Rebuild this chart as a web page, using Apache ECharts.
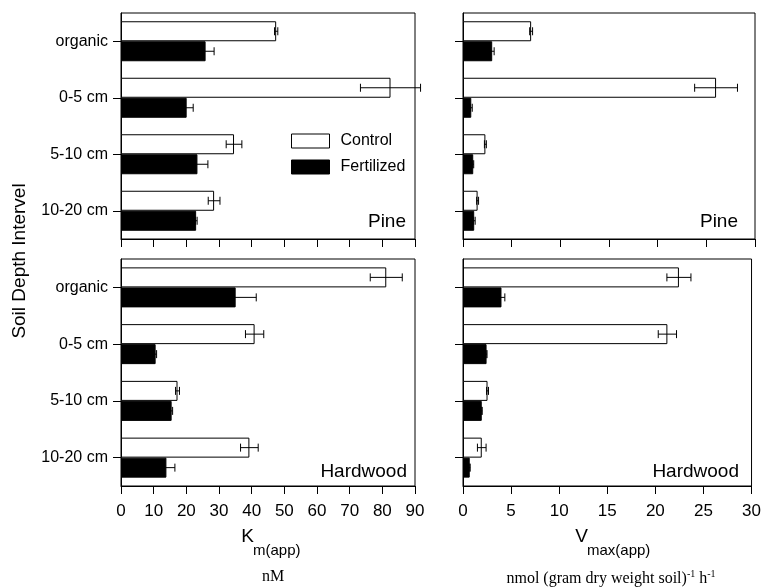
<!DOCTYPE html>
<html>
<head>
<meta charset="utf-8">
<script src="https://cdn.jsdelivr.net/npm/echarts@6.0.0/dist/echarts.min.js"></script>
<style>
  html, body { margin: 0; padding: 0; background: #fff; }
  #main { width: 764px; height: 587px; }
</style>
</head>
<body>
<div id="main"></div>
<script>
// soil depth intervals
var depths = ['organic', '0-5 cm', '5-10 cm', '10-20 cm'];

// Pine, Km(app) nM
var pineKmControl = [47.5, 82.5, 34.6, 28.5];
var pineKmControlErr = [0.5, 9.2, 2.4, 1.8];
var pineKmFert = [25.9, 20.1, 23.4, 23.0];
var pineKmFertErr = [2.6, 2.0, 3.2, 0.3];

// Pine, Vmax(app)
var pineVmaxControl = [7.0, 26.0, 2.3, 1.5];
var pineVmaxControlErr = [0.15, 2.2, 0.1, 0.1];
var pineVmaxFert = [3.0, 0.85, 1.05, 1.15];
var pineVmaxFertErr = [0.2, 0.1, 0.05, 0.1];

// Hardwood, Km(app)
var hwKmControl = [81.2, 40.9, 17.3, 39.3];
var hwKmControlErr = [4.9, 2.8, 0.6, 2.7];
var hwKmFert = [35.1, 10.6, 15.5, 13.9];
var hwKmFertErr = [6.3, 0.3, 0.3, 2.6];

// Hardwood, Vmax(app)
var hwVmaxControl = [22.45, 21.25, 2.55, 1.95];
var hwVmaxControlErr = [1.25, 0.95, 0.1, 0.45];
var hwVmaxFert = [4.0, 2.45, 1.95, 0.7];
var hwVmaxFertErr = [0.35, 0.05, 0.05, 0.05];

var kmTicks = {min: 0, max: 90, interval: 10};
var vmaxTicks = {min: 0, max: 30, interval: 5};

var FONT = 'Liberation Sans';
var BAR_W = 20;

function errData(vals, errs) {
  return vals.map(function (v, i) { return [v, i, errs[i]]; });
}

// horizontal error bar with caps, shifted up/down to sit on its bar
function errRender(shift) {
  return function (params, api) {
    var v = api.value(0), ci = api.value(1), e = api.value(2);
    var lo = api.coord([v - e, ci]);
    var hi = api.coord([v + e, ci]);
    var y = lo[1] + shift;
    var st = {stroke: '#000', lineWidth: 1};
    return {
      type: 'group',
      children: [
        {type: 'line', shape: {x1: lo[0], y1: y, x2: hi[0], y2: y}, style: st},
        {type: 'line', shape: {x1: lo[0], y1: y - 4, x2: lo[0], y2: y + 4}, style: st},
        {type: 'line', shape: {x1: hi[0], y1: y - 4, x2: hi[0], y2: y + 4}, style: st}
      ]
    };
  };
}

var grids = [
  {left: 121, top: 13, width: 294, height: 226},
  {left: 463, top: 13, width: 292, height: 226},
  {left: 121, top: 259, width: 294, height: 227},
  {left: 463, top: 259, width: 292, height: 227}
];
grids.forEach(function (g) {
  g.show = true;
  g.borderColor = '#000';
  g.borderWidth = 1;
  g.backgroundColor = 'transparent';
});

function xAx(idx, ticks, labels) {
  return {
    type: 'value', gridIndex: idx,
    min: ticks.min, max: ticks.max, interval: ticks.interval,
    axisLine: {show: true, lineStyle: {color: '#000', width: 1}},
    axisTick: {show: true, length: 8, lineStyle: {color: '#000'}},
    axisLabel: {show: labels, color: '#000', fontFamily: FONT, fontSize: 17, margin: 17},
    splitLine: {show: false}
  };
}

function yAx(idx, labels) {
  return {
    type: 'category', gridIndex: idx, data: depths, inverse: true,
    axisLine: {show: true, lineStyle: {color: '#000', width: 1}},
    axisTick: {show: true, length: 8, alignWithLabel: true, lineStyle: {color: '#000'}},
    axisLabel: {show: labels, color: '#000', fontFamily: FONT, fontSize: 16, margin: 13},
    splitLine: {show: false}
  };
}

var panels = [
  {c: pineKmControl, ce: pineKmControlErr, f: pineKmFert, fe: pineKmFertErr},
  {c: pineVmaxControl, ce: pineVmaxControlErr, f: pineVmaxFert, fe: pineVmaxFertErr},
  {c: hwKmControl, ce: hwKmControlErr, f: hwKmFert, fe: hwKmFertErr},
  {c: hwVmaxControl, ce: hwVmaxControlErr, f: hwVmaxFert, fe: hwVmaxFertErr}
];

var series = [];
panels.forEach(function (p, i) {
  series.push({
    name: 'Control', type: 'bar', xAxisIndex: i, yAxisIndex: i,
    data: p.c, barWidth: BAR_W, barGap: 0,
    itemStyle: {color: '#fff', borderColor: '#000', borderWidth: 1},
    emphasis: {disabled: true}, animation: false
  });
  series.push({
    name: 'Fertilized', type: 'bar', xAxisIndex: i, yAxisIndex: i,
    data: p.f, barWidth: BAR_W, barGap: 0,
    itemStyle: {color: '#000', borderColor: '#000', borderWidth: 1},
    emphasis: {disabled: true}, animation: false
  });
  series.push({
    type: 'custom', xAxisIndex: i, yAxisIndex: i, z: 5, clip: false,
    renderItem: errRender(-BAR_W / 2), encode: {x: 0, y: 1},
    data: errData(p.c, p.ce), animation: false, silent: true
  });
  series.push({
    type: 'custom', xAxisIndex: i, yAxisIndex: i, z: 5, clip: false,
    renderItem: errRender(BAR_W / 2), encode: {x: 0, y: 1},
    data: errData(p.f, p.fe), animation: false, silent: true
  });
});

function txt(x, y, s, size, align, family, extra) {
  var o = {
    type: 'text', x: x, y: y, silent: true,
    style: {text: s, fill: '#000', font: size + 'px "' + (family || FONT) + '"',
            textAlign: align || 'center', textVerticalAlign: 'middle'}
  };
  if (extra) { for (var k in extra) o[k] = extra[k]; }
  return o;
}

var option = {
  backgroundColor: '#fff',
  animation: false,
  grid: grids,
  xAxis: [xAx(0, kmTicks, false), xAx(1, vmaxTicks, false), xAx(2, kmTicks, true), xAx(3, vmaxTicks, true)],
  yAxis: [yAx(0, true), yAx(1, false), yAx(2, true), yAx(3, false)],
  legend: {
    data: ['Control', 'Fertilized'],
    orient: 'vertical', left: 286, top: 128,
    icon: 'rect', itemWidth: 38, itemHeight: 14, itemGap: 10,
    selectedMode: false,
    itemStyle: {borderWidth: 1, borderColor: '#000'},
    textStyle: {color: '#000', fontFamily: FONT, fontSize: 16, padding: [0, 0, 0, 6]}
  },
  graphic: [
    txt(406, 222, 'Pine', 19, 'right'),
    txt(738, 222, 'Pine', 19, 'right'),
    txt(407, 472, 'Hardwood', 19, 'right'),
    txt(739, 472, 'Hardwood', 19, 'right'),
    txt(20, 261, 'Soil Depth Intervel', 19, 'center', FONT, {rotation: Math.PI / 2}),
    txt(254, 537, 'K', 19, 'right'),
    txt(253, 551, 'm(app)', 15, 'left'),
    txt(588, 537, 'V', 19, 'right'),
    txt(587, 551, 'max(app)', 15, 'left'),
    txt(273, 577, 'nM', 16, 'center', 'Liberation Serif'),
    {
      type: 'text', x: 611, y: 578, silent: true,
      style: {
        text: '{u|nmol (gram dry weight soil)}{s|-1}{u| h}{s|-1}',
        textAlign: 'center', textVerticalAlign: 'middle',
        rich: {
          u: {fontFamily: 'Liberation Serif', fontSize: 16, color: '#000', lineHeight: 18, verticalAlign: 'bottom'},
          s: {fontFamily: 'Liberation Serif', fontSize: 10, color: '#000', lineHeight: 10, verticalAlign: 'top'}
        }
      }
    }
  ],
  series: series
};

var chart = echarts.init(document.getElementById('main'), null, {renderer: 'canvas'});
chart.setOption(option);
</script>
</body>
</html>
